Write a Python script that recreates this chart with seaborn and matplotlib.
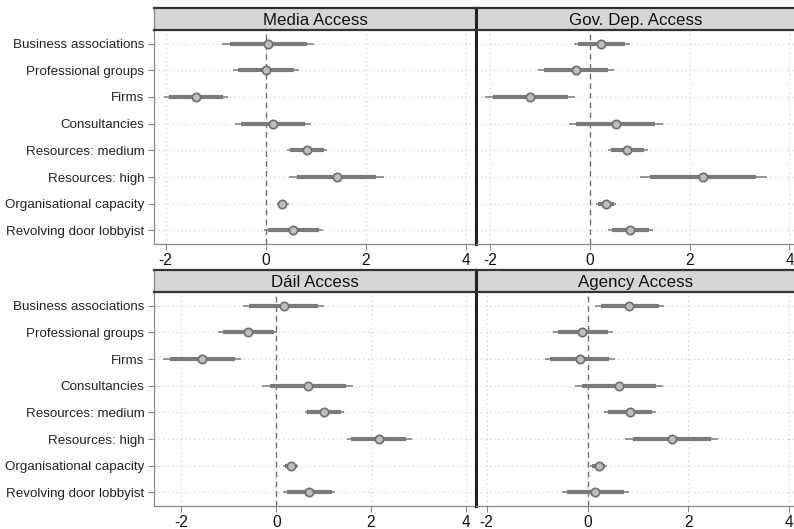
import matplotlib
matplotlib.use("Agg")
import matplotlib.pyplot as plt
import seaborn as sns
import pandas as pd
import numpy as np

sns.set_theme(style="white")
plt.rcParams["font.family"] = ["Liberation Sans", "DejaVu Sans"]

categories = [
    "Business associations",
    "Professional groups",
    "Firms",
    "Consultancies",
    "Resources: medium",
    "Resources: high",
    "Organisational capacity",
    "Revolving door lobbyist",
]

panels = ["Media Access", "Gov. Dep. Access", "Dáil Access", "Agency Access"]

# Point estimates
media_est = [0.05, 0.00, -1.39, 0.15, 0.82, 1.42, 0.33, 0.55]
gov_est = [0.23, -0.28, -1.19, 0.53, 0.75, 2.27, 0.32, 0.81]
dail_est = [0.16, -0.59, -1.56, 0.67, 1.02, 2.18, 0.31, 0.70]
agency_est = [0.83, -0.10, -0.15, 0.62, 0.84, 1.67, 0.22, 0.15]

# Outer (wide) intervals
media_lo_wide = [-0.88, -0.65, -2.03, -0.61, 0.43, 0.47, 0.22, -0.03]
media_hi_wide = [0.97, 0.67, -0.76, 0.91, 1.23, 2.37, 0.47, 1.15]
gov_lo_wide = [-0.32, -1.03, -2.09, -0.41, 0.36, 1.01, 0.13, 0.36]
gov_hi_wide = [0.80, 0.48, -0.30, 1.47, 1.16, 3.55, 0.53, 1.27]
dail_lo_wide = [-0.70, -1.23, -2.39, -0.29, 0.61, 1.49, 0.15, 0.15]
dail_hi_wide = [1.02, 0.01, -0.75, 1.63, 1.44, 2.87, 0.47, 1.25]
agency_lo_wide = [0.15, -0.69, -0.85, -0.25, 0.32, 0.75, 0.05, -0.51]
agency_hi_wide = [1.52, 0.50, 0.54, 1.50, 1.36, 2.59, 0.38, 0.82]

# Inner (narrow) intervals
media_lo_narrow = [-0.71, -0.55, -1.93, -0.49, 0.49, 0.62, 0.25, 0.05]
media_hi_narrow = [0.82, 0.57, -0.86, 0.78, 1.17, 2.21, 0.43, 1.06]
gov_lo_narrow = [-0.24, -0.92, -1.94, -0.27, 0.43, 1.21, 0.16, 0.44]
gov_hi_narrow = [0.70, 0.37, -0.44, 1.31, 1.08, 3.33, 0.48, 1.19]
dail_lo_narrow = [-0.58, -1.13, -2.25, -0.13, 0.66, 1.59, 0.18, 0.23]
dail_hi_narrow = [0.89, -0.05, -0.87, 1.47, 1.37, 2.75, 0.43, 1.17]
agency_lo_narrow = [0.26, -0.59, -0.74, -0.11, 0.41, 0.90, 0.09, -0.41]
agency_hi_narrow = [1.41, 0.40, 0.42, 1.36, 1.28, 2.44, 0.35, 0.72]

x_ticks = [-2, 0, 2, 4]
x_limits = {
    "Media Access": (-2.23, 4.21),
    "Gov. Dep. Access": (-2.28, 4.13),
    "Dáil Access": (-2.58, 4.22),
    "Agency Access": (-2.21, 4.13),
}

frames = []
for name, est, lw_, hw_, ln_, hn_ in [
    ("Media Access", media_est, media_lo_wide, media_hi_wide, media_lo_narrow, media_hi_narrow),
    ("Gov. Dep. Access", gov_est, gov_lo_wide, gov_hi_wide, gov_lo_narrow, gov_hi_narrow),
    ("Dáil Access", dail_est, dail_lo_wide, dail_hi_wide, dail_lo_narrow, dail_hi_narrow),
    ("Agency Access", agency_est, agency_lo_wide, agency_hi_wide, agency_lo_narrow, agency_hi_narrow),
]:
    frames.append(pd.DataFrame({
        "panel": name,
        "term": categories,
        "pos": np.arange(len(categories)),
        "est": est,
        "lo_wide": lw_, "hi_wide": hw_,
        "lo_narrow": ln_, "hi_narrow": hn_,
    }))
df = pd.concat(frames, ignore_index=True)

fig = plt.figure(figsize=(7.94, 5.29), dpi=100)

col_x = [(0.194, 0.4055), (0.5995, 0.403)]
row_y = [0.5393, 0.0440]
ax_h = 0.4034
strip_h = 0.0430

mark_col = "#7a7a7a"
grid_col = "#c8c8c8"
spine_col = "#8a8a8a"

for i, name in enumerate(panels):
    r, c = divmod(i, 2)
    left, width = col_x[c]
    bottom = row_y[r]
    ax = fig.add_axes([left, bottom, width, ax_h])
    sub = df[df["panel"] == name]

    # grid
    for xv in x_ticks:
        ax.axvline(xv, color=grid_col, lw=0.8, ls=(0, (1, 3)), zorder=0)
    for yv in sub["pos"]:
        ax.axhline(yv, color=grid_col, lw=0.8, ls=(0, (1, 3)), zorder=0)
    ax.axvline(0, color="#6f6f6f", lw=1.0, ls=(0, (4, 3)), zorder=1)

    ax.hlines(sub["pos"], sub["lo_wide"], sub["hi_wide"], color=mark_col, lw=1.1, zorder=2)
    ax.hlines(sub["pos"], sub["lo_narrow"], sub["hi_narrow"], color=mark_col, lw=3.0, zorder=3)
    sns.scatterplot(data=sub, x="est", y="pos", ax=ax, s=36, marker="o",
                    facecolor="#bdbdbd", edgecolor="#6e6e6e", linewidth=1.2, zorder=4,
                    legend=False)

    ax.set_xlim(*x_limits[name])
    ax.set_ylim(7.5, -0.5)
    ax.set_xticks(x_ticks)
    ax.set_xticklabels([str(t) for t in x_ticks], fontsize=11.2, color="#111111")
    ax.set_yticks(sub["pos"])
    if c == 0:
        ax.set_yticklabels(categories, fontsize=9.6, color="#222222")
        ax.tick_params(axis="y", length=4, width=0.8, color=spine_col, pad=3, left=True)
    else:
        ax.set_yticklabels([])
        ax.tick_params(axis="y", length=0)
    ax.tick_params(axis="x", length=4, width=0.8, color=spine_col, pad=3, bottom=True)
    ax.set_xlabel("")
    ax.set_ylabel("")

    for side in ["left", "bottom"]:
        ax.spines[side].set_color(spine_col)
        ax.spines[side].set_linewidth(0.9)
    ax.spines["top"].set_visible(False)
    if c == 0:
        ax.spines["right"].set_color("#222222")
        ax.spines["right"].set_linewidth(2.2)
    else:
        ax.spines["left"].set_color("#222222")
        ax.spines["left"].set_linewidth(2.2)
        ax.spines["right"].set_visible(False)

    # panel title strip
    sax = fig.add_axes([left, bottom + ax_h, width, strip_h])
    sax.set_facecolor("#d6d6d6")
    sax.set_xticks([])
    sax.set_yticks([])
    for side in ["top", "bottom"]:
        sax.spines[side].set_color("#333333")
        sax.spines[side].set_linewidth(1.6)
    sax.spines["left"].set_color("#222222" if c == 1 else spine_col)
    sax.spines["left"].set_linewidth(2.2 if c == 1 else 1.0)
    sax.spines["right"].set_color("#222222")
    sax.spines["right"].set_linewidth(2.2 if c == 0 else 0)
    sax.text(0.5, 0.45, name, ha="center", va="center", fontsize=12.2,
             color="#111111", transform=sax.transAxes)

fig.savefig("out.png", dpi=100)
